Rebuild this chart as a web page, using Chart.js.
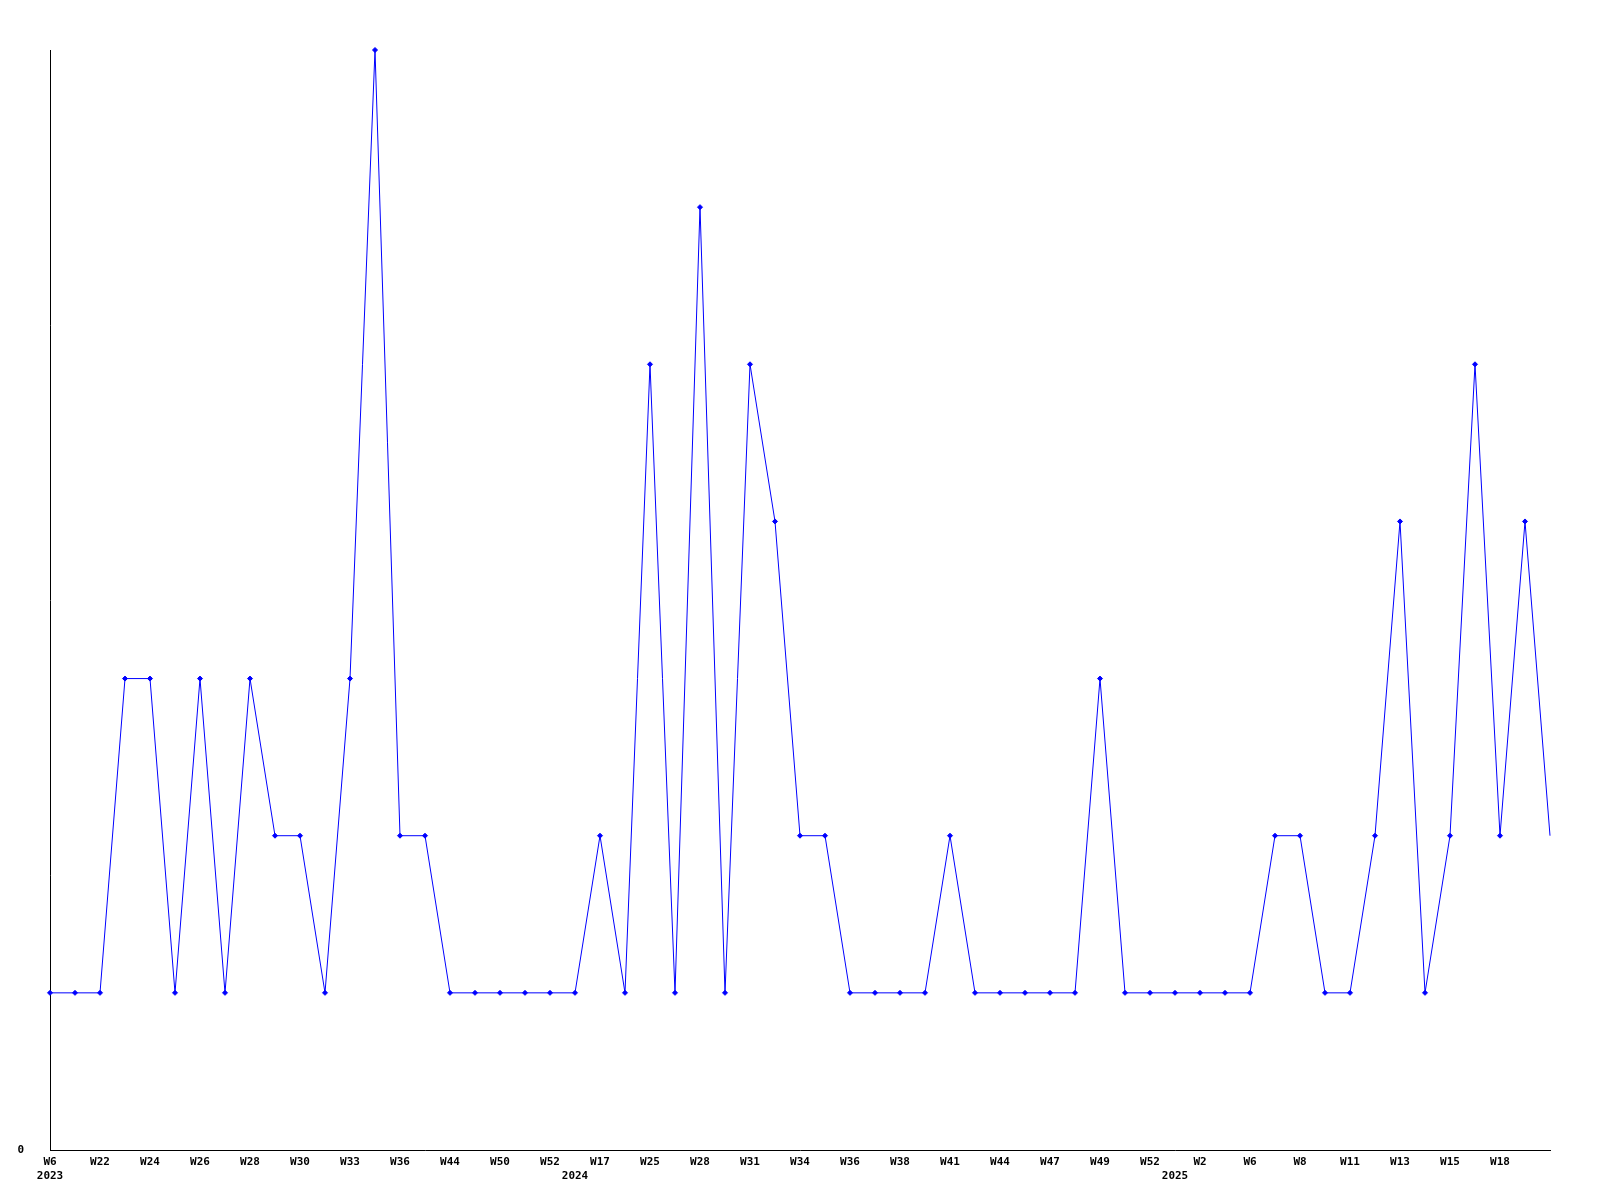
<!DOCTYPE html>
<html>
<head>
<meta charset="utf-8">
<script src="https://cdn.jsdelivr.net/npm/chart.js@4/dist/chart.umd.min.js"></script>
<style>
  html, body { margin: 0; padding: 0; background: #fff; }
</style>
</head>
<body>
<canvas id="chartSemanas" width="1600" height="1200"></canvas>
<script>
// semanas (etiqueta vacía = sin texto en el eje)
const weekLabels = [
    'W6', '', 'W22', '', 'W24', '', 'W26', '', 'W28', '', 'W30', '', 'W33', '', 'W36', '',
    'W44', '', 'W50', '', 'W52', '', 'W17', '', 'W25', '', 'W28', '', 'W31', '', 'W34', '',
    'W36', '', 'W38', '', 'W41', '', 'W44', '', 'W47', '', 'W49', '', 'W52', '', 'W2', '',
    'W6', '', 'W8', '', 'W11', '', 'W13', '', 'W15', '', 'W18', '', ''
];
const yearLabels = [
    '2023', '', '', '', '', '', '', '', '', '', '', '', '', '', '', '',
    '', '', '', '', '', '2024', '', '', '', '', '', '', '', '', '', '',
    '', '', '', '', '', '', '', '', '', '', '', '', '', '2025', '', '',
    '', '', '', '', '', '', '', '', '', '', '', '', ''
];
const counts = [
    1, 1, 1, 3, 3, 1, 3, 1, 3, 2, 2, 1, 3, 7, 2, 2,
    1, 1, 1, 1, 1, 1, 2, 1, 5, 1, 6, 1, 5, 4, 2, 2,
    1, 1, 1, 1, 2, 1, 1, 1, 1, 1, 3, 1, 1, 1, 1, 1,
    1, 2, 2, 1, 1, 2, 4, 1, 2, 5, 2, 4, 2
];
const yTicks = [0];

document.addEventListener('DOMContentLoaded', function () {
    const fontEje = { family: '"DejaVu Sans Mono", monospace', size: 11, weight: 'bold' };
    const labels = weekLabels.map(function (w, i) { return [w, yearLabels[i]]; });
    // el último punto queda cortado en el borde, sin marcador
    const radios = counts.map(function (v, i) { return i === counts.length - 1 ? 0 : 2.5; });

    try {
        new Chart(document.getElementById('chartSemanas'), {
            type: 'line',
            data: {
                labels: labels,
                datasets: [{
                    data: counts,
                    borderColor: '#0000ff',
                    backgroundColor: '#0000ff',
                    borderWidth: 1,
                    tension: 0,
                    clip: false,
                    pointStyle: 'rectRot',
                    pointRadius: radios,
                    pointBorderWidth: 1
                }]
            },
            options: {
                responsive: false,
                animation: false,
                devicePixelRatio: 1,
                layout: { padding: { top: 50, right: 50, left: 0, bottom: 0 } },
                plugins: {
                    legend: { display: false },
                    tooltip: { enabled: false }
                },
                scales: {
                    x: {
                        offset: false,
                        grid: { display: false, drawTicks: false },
                        border: { display: true, color: '#000', width: 1 },
                        ticks: {
                            autoSkip: false,
                            maxRotation: 0,
                            padding: 6,
                            color: '#000',
                            font: fontEje
                        },
                        afterFit: function (scale) { scale.height = 50; }
                    },
                    y: {
                        min: 0,
                        max: 7,
                        grid: { display: false, drawTicks: false },
                        border: { display: true, color: '#000', width: 1 },
                        ticks: {
                            padding: 26,
                            color: '#000',
                            font: fontEje
                        },
                        afterBuildTicks: function (scale) {
                            scale.ticks = yTicks.map(function (v) { return { value: v }; });
                        },
                        afterFit: function (scale) { scale.width = 50; }
                    }
                }
            }
        });
    } catch (error) {
        console.error('Error al crear la gráfica:', error);
    }
});
</script>
</body>
</html>
